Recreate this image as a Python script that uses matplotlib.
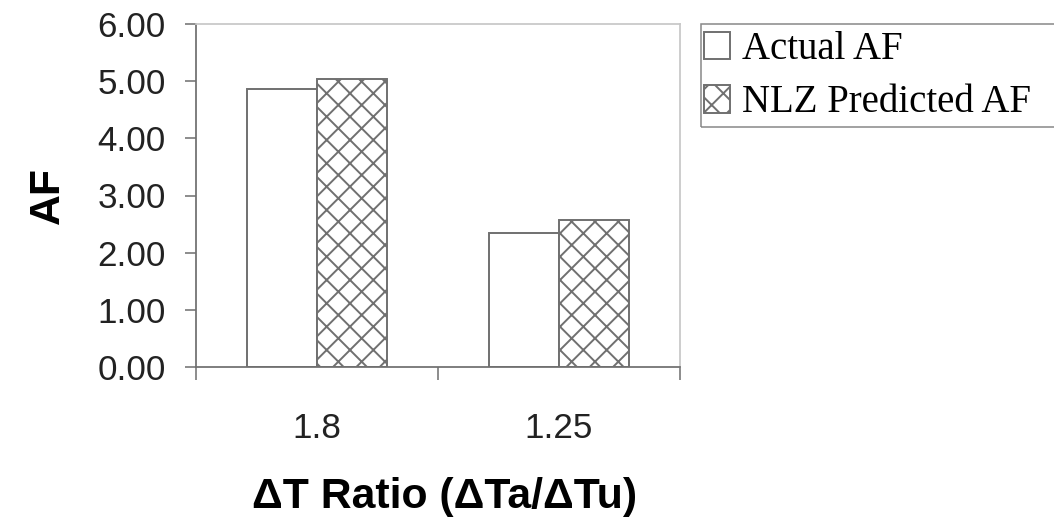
import matplotlib
matplotlib.use("Agg")
import matplotlib.pyplot as plt
from matplotlib.patches import Rectangle
import numpy as np

# Datos
categories = ["1.8", "1.25"]
actual_af = [4.86, 2.34]
nlz_af = [5.03, 2.57]
y_ticks = [0, 1, 2, 3, 4, 5, 6]

DPI = 140
W, H = 1054, 520
plt.rcParams["font.family"] = ["Liberation Sans", "DejaVu Sans"]
plt.rcParams["hatch.linewidth"] = 1.0

fig = plt.figure(figsize=(W / DPI, H / DPI), dpi=DPI)
ax = fig.add_axes([196 / W, 1 - 367 / H, 484 / W, 343 / H])

x = np.arange(len(categories))
w = 0.29
edge = "#707070"
ax.bar(x - w / 2, actual_af, w, color="white", edgecolor=edge, linewidth=1.0,
       label="Actual AF")
ax.bar(x + w / 2, nlz_af, w, color="white", edgecolor=edge, linewidth=1.0,
       hatch="xx", label="NLZ Predicted AF")

ax.set_xlim(-0.5, len(categories) - 0.5)
ax.set_ylim(0, 6)
ax.set_yticks(y_ticks)
ax.set_yticklabels([f"{v:.2f}" for v in y_ticks])
ax.tick_params(axis="y", direction="out", length=5.5, width=0.8, color=edge,
               pad=10, labelsize=18, labelcolor="#222222")

# ticks en los limites de categoria, etiquetas en el centro
ax.set_xticks(np.arange(-0.5, len(categories), 1.0))
ax.set_xticklabels([])
ax.set_xticks(x, minor=True)
ax.set_xticklabels(categories, minor=True)
ax.tick_params(axis="x", which="major", direction="out", length=6.5, width=0.8,
               color=edge)
ax.tick_params(axis="x", which="minor", length=0, pad=23, labelsize=18,
               labelcolor="#222222")

for s in ["left", "bottom"]:
    ax.spines[s].set_color(edge)
    ax.spines[s].set_linewidth(0.9)
for s in ["top", "right"]:
    ax.spines[s].set_color("#c8c8c8")
    ax.spines[s].set_linewidth(0.9)

ax.set_ylabel("AF", fontsize=22, fontweight="bold")
ax.yaxis.set_label_coords((48 - 196) / 484, 0.5)
ax.yaxis.label.set_va("center")
ax.set_xlabel("\u0394T Ratio (\u0394Ta/\u0394Tu)", fontsize=22, fontweight="bold")
ax.xaxis.set_label_coords((445 - 196) / 484, (367 - 497) / 343)
ax.xaxis.label.set_va("center")

# leyenda sin marco; el marco va aparte porque se sale del borde derecho
leg = ax.legend(loc="upper left", bbox_to_anchor=(704 / W, 1 - 31 / H),
                bbox_transform=fig.transFigure, frameon=False,
                prop={"family": "Liberation Serif", "size": 20},
                handlelength=0.68, handleheight=0.72, handletextpad=0.3,
                borderpad=0.0, labelspacing=0.42, borderaxespad=0)
fig.add_artist(Rectangle((701 / W, 1 - 127 / H), 0.4, 103 / H,
                         transform=fig.transFigure, fill=False,
                         edgecolor="#8a8a8a", linewidth=0.8))

fig.savefig("out.png", dpi=DPI)
